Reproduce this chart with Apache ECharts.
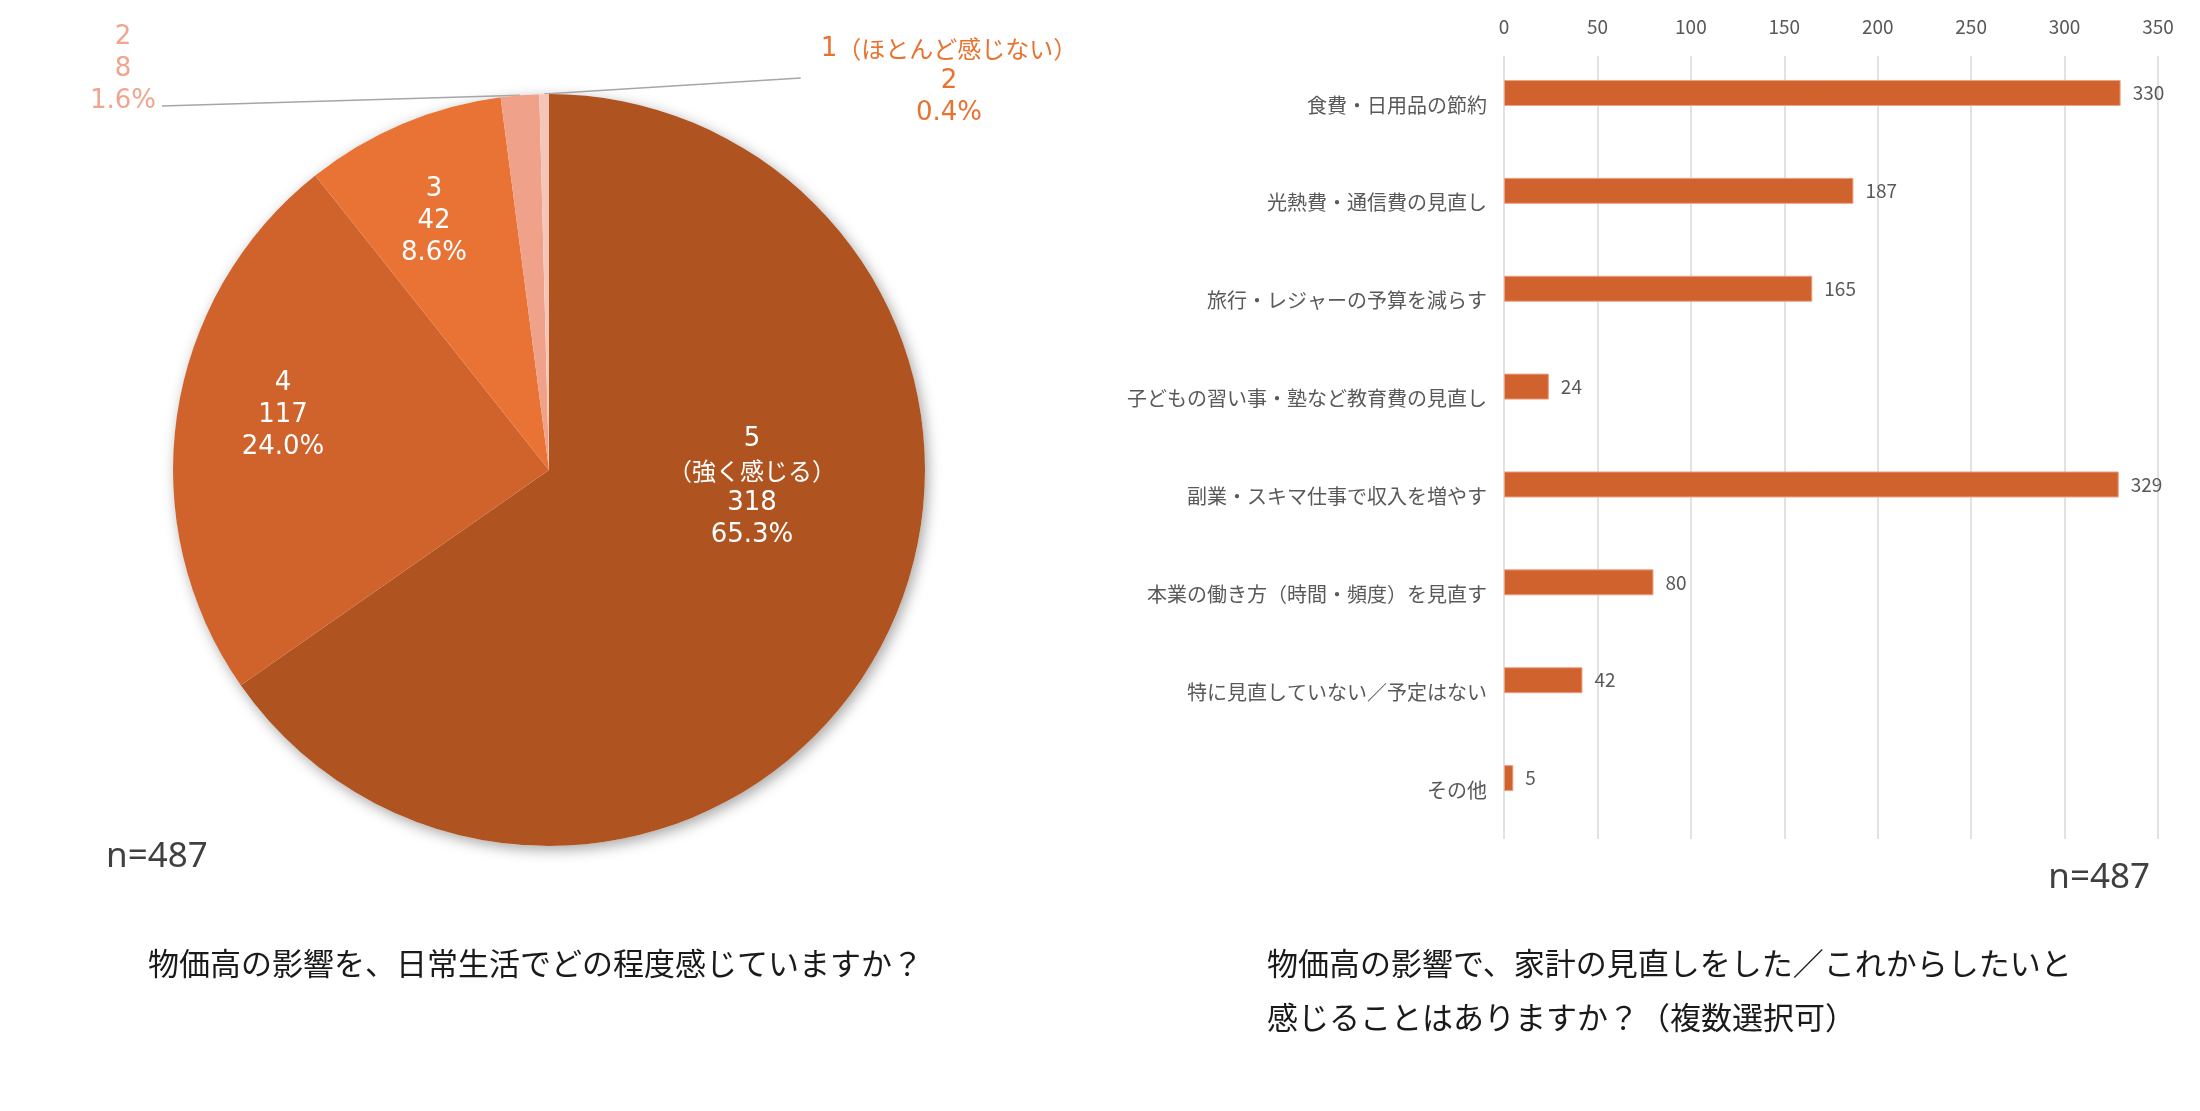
<!DOCTYPE html>
<html>
<head>
<meta charset="utf-8">
<script src="https://cdn.jsdelivr.net/npm/echarts@6/dist/echarts.min.js"></script>
<style>
  html, body { margin: 0; padding: 0; background: #fff; }
  #main { width: 2200px; height: 1111px; }
</style>
</head>
<body>
<div id="main"></div>
<script>
// 円グラフ：物価高の影響の感じ方
const pieNames = ['5\n（強く感じる）', '4', '3', '2', '1（ほとんど感じない）'];
const pieValues = [318, 117, 42, 8, 2];
const pieColors = ['#AF5421', '#D0622C', '#E87335', '#EFA18A', '#F5C6B7'];
const pieLabelColors = ['#ffffff', '#ffffff', '#ffffff', '#F0A58E', '#E8722F'];

// 横棒グラフ：家計の見直し
const barCategories = [
  '食費・日用品の節約',
  '光熱費・通信費の見直し',
  '旅行・レジャーの予算を減らす',
  '子どもの習い事・塾など教育費の見直し',
  '副業・スキマ仕事で収入を増やす',
  '本業の働き方（時間・頻度）を見直す',
  '特に見直していない／予定はない',
  'その他'
];
const barValues = [330, 187, 165, 24, 329, 80, 42, 5];
const barTicks = [0, 50, 100, 150, 200, 250, 300, 350];

const sampleSize = 'n=487';
const pieTitle = '物価高の影響を、日常生活でどの程度感じていますか？';
const barTitle = '物価高の影響で、家計の見直しをした／これからしたいと\n感じることはありますか？（複数選択可）';

const total = pieValues.reduce((a, b) => a + b, 0);

// ラベルの配置（円の中心・ラベル位置）
const pieCenter = [549, 470];
const pieRadius = 376;
const pieLabelPos = [[752, 487], [283, 415], [434, 221], [123, 69], [949, 81]];

function richRuns(s) { //数字と日本語でフォントを分ける
  return s.split('\n').map(function (line) {
    return line.replace(/([0-9.%]+)|([^0-9.%]+)/g, function (m, a, b) {
      return a ? '{n|' + a + '}' : '{j|' + b + '}';
    });
  }).join('\n');
}

const pieData = pieValues.map(function (v, i) {
  const outside = i >= 3;
  return {
    name: pieNames[i],
    value: v,
    itemStyle: { color: pieColors[i] },
    label: {
      position: outside ? 'outside' : 'inside',
      color: pieLabelColors[i]
    },
    labelLine: { show: outside }
  };
});

const chart = echarts.init(document.getElementById('main'));

const option = {
  backgroundColor: '#ffffff',
  animation: false,
  grid: {
    left: 1504,
    right: 42,
    top: 56,
    bottom: 272
  },
  xAxis: {
    type: 'value',
    position: 'top',
    min: 0,
    max: barTicks[barTicks.length - 1],
    interval: barTicks[1] - barTicks[0],
    axisLine: { show: false },
    axisTick: { show: false },
    axisLabel: {
      margin: 20,
      fontSize: 19,
      color: '#595959',
      fontFamily: 'Noto Sans CJK JP'
    },
    splitLine: { lineStyle: { color: '#D9D9D9', width: 1.5 } }
  },
  yAxis: {
    type: 'category',
    inverse: true,
    data: barCategories,
    axisLine: { show: false },
    axisTick: { show: false },
    axisLabel: {
      margin: 17,
      fontSize: 20,
      color: '#595959',
      fontFamily: 'Noto Sans CJK JP'
    }
  },
  series: [
    { // 影だけの下地
      type: 'pie',
      silent: true,
      z: 1,
      center: pieCenter,
      radius: pieRadius,
      startAngle: 90,
      data: [{ value: total }],
      label: { show: false },
      labelLine: { show: false },
      itemStyle: {
        color: '#ffffff',
        shadowBlur: 14,
        shadowColor: 'rgba(0,0,0,0.35)',
        shadowOffsetX: 3,
        shadowOffsetY: 4
      }
    },
    {
      type: 'pie',
      z: 2,
      center: pieCenter,
      radius: pieRadius,
      startAngle: 90,
      clockwise: true,
      avoidLabelOverlap: false,
      data: pieData,
      emphasis: { disabled: true },
      label: {
        show: true,
        formatter: function (p) {
          const pct = (p.value / total * 100).toFixed(1) + '%';
          return richRuns(p.name + '\n' + p.value + '\n' + pct);
        },
        rich: {
          n: { fontFamily: 'DejaVu Sans', fontSize: 26, lineHeight: 32 },
          j: { fontFamily: 'Noto Sans CJK JP', fontSize: 24, lineHeight: 32 }
        }
      },
      labelLine: {
        length: 10,
        length2: 10,
        lineStyle: { color: '#A6A6A6', width: 1.5 }
      },
      labelLayout: function (p) {
        const pos = pieLabelPos[p.dataIndex];
        const res = { x: pos[0], y: pos[1], align: 'center', verticalAlign: 'middle' };
        if (p.dataIndex >= 3 && p.labelLinePoints) {
          const p0 = p.labelLinePoints[0];
          const w = p.labelRect.width, h = p.labelRect.height;
          let end;
          if (pos[0] < pieCenter[0]) {
            end = [pos[0] + w / 2 + 6, pos[1] + h / 2 - 8];
          } else {
            end = [pos[0] - w / 2 - 20, pos[1] - 3];
          }
          res.labelLinePoints = [p0, end, end];
        }
        return res;
      }
    },
    {
      type: 'bar',
      name: 'main',
      data: barValues,
      barWidth: 26,
      barGap: '-8%',
      itemStyle: {
        color: '#D0632D',
        borderColor: '#EDA283',
        borderWidth: 1
      },
      label: {
        show: true,
        position: 'right',
        distance: 12,
        fontSize: 19,
        color: '#595959',
        fontFamily: 'Noto Sans CJK JP'
      },
      emphasis: { disabled: true }
    },
    { // 空の系列（棒を帯の上寄せにするため）
      type: 'bar',
      name: 'blank',
      data: [],
      barWidth: 26,
      barGap: '-8%'
    }
  ],
  graphic: [
    {
      type: 'text', x: 106, y: 857,
      style: { text: sampleSize, font: '35px "Noto Sans"', fill: '#404040', verticalAlign: 'middle' }
    },
    {
      type: 'text', x: 2150, y: 878,
      style: { text: sampleSize, font: '35px "Noto Sans"', fill: '#404040', align: 'right', verticalAlign: 'middle' }
    },
    {
      type: 'text', x: 148, y: 963,
      style: { text: pieTitle, font: '31px "Noto Sans CJK JP"', fill: '#1a1a1a', verticalAlign: 'middle' }
    },
    {
      type: 'text', x: 1267, y: 936,
      style: { text: barTitle, font: '31px "Noto Sans CJK JP"', lineHeight: 54, fill: '#1a1a1a', verticalAlign: 'top' }
    }
  ]
};

chart.setOption(option);
</script>
</body>
</html>
